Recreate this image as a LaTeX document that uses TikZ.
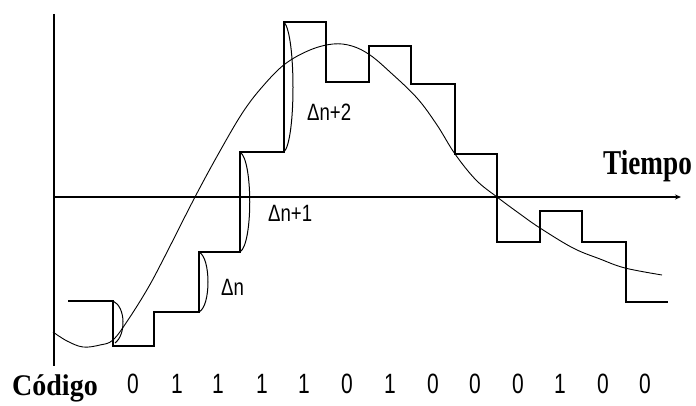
\documentclass[tikz,border=0pt]{standalone}
\usepackage{fontspec}
\usepackage{graphicx}
\setmainfont{Liberation Serif}
\newfontfamily\lsans{Liberation Sans}
\usetikzlibrary{arrows.meta}
\begin{document}
\begin{tikzpicture}[x=1pt,y=-1pt,
  axisline/.style={line width=1.3pt},
  stair/.style={line width=1.6pt, line join=miter},
  signal/.style={line width=0.9pt},
  bracket/.style={line width=1pt},
  bit/.style={inner sep=0pt, anchor=base, font=\lsans\fontsize{21}{24}\selectfont},
  dlabel/.style={inner sep=0pt, anchor=base west, font=\lsans\fontsize{18.6}{22}\selectfont},
  title/.style={inner sep=0pt, anchor=base west, font=\bfseries\fontsize{27.2}{30}\selectfont}
]
\useasboundingbox (0,0) rectangle (696,406);

% axes
\coordinate (vtop) at (54,14);
\coordinate (vbot) at (54,366);
\coordinate (hstart) at (54,197);
\coordinate (hend) at (681,197);
\draw[axisline] (vtop) -- (vbot);
\draw[axisline,-{Stealth[length=6pt,width=5pt]}] (hstart) -- (hend);

% staircase
\draw[stair] (68,301) -| (113,346) -| (154,312) -| (199,252) -| (240,152) -| (284,22)
  -| (326,82) -| (369,46) -| (411,84) -| (455,154) -| (497,242) -| (540,211)
  -| (582,242) -| (626,302) -- (668,302);

% analog signal
\draw[signal] plot[smooth, tension=0.6] coordinates {
  (53,332) (67,341) (83,347) (100,345) (113,340) (128,320) (148,288) (165,256)
  (195,197) (220,151) (243,112) (263,86) (285,64) (310,50) (333,44) (352,46)
  (370,55) (390,72) (417,98) (437,125) (455,154) (476,180) (497,197) (520,214)
  (540,228) (573,248) (600,259) (625,268) (662,275)};

% step brackets
\draw[bracket] (113,301) .. controls (126,307) and (126,335) .. (115,343);
\draw[bracket] (199,252) .. controls (211,258) and (211,306) .. (199,312);
\draw[bracket] (240,152) .. controls (253,160) and (253,244) .. (240,252);
\draw[bracket] (284,22) .. controls (296,35) and (296,140) .. (284,152);

% labels
\node[dlabel] (dn) at (221,295) {\scalebox{1}[1.27]{Δn}};
\node[dlabel] (dn1) at (268,222) {\scalebox{1}[1.27]{Δn+1}};
\node[dlabel] (dn2) at (307,121) {\scalebox{1}[1.27]{Δn+2}};

\node[title] (tiempo) at (603,175) {\scalebox{1}[1.28]{Tiempo}};
\node[title, font=\bfseries\fontsize{28}{30}\selectfont] (codigo) at (12,395) {\scalebox{1}[1.07]{Código}};

% code bits
\node[bit] (b1) at (133,393) {\scalebox{1}[1.33]{0}};
\node[bit] (b2) at (177,393) {\scalebox{1}[1.33]{1}};
\node[bit] (b3) at (218,393) {\scalebox{1}[1.33]{1}};
\node[bit] (b4) at (262,393) {\scalebox{1}[1.33]{1}};
\node[bit] (b5) at (304,393) {\scalebox{1}[1.33]{1}};
\node[bit] (b6) at (347,393) {\scalebox{1}[1.33]{0}};
\node[bit] (b7) at (390,393) {\scalebox{1}[1.33]{1}};
\node[bit] (b8) at (433,393) {\scalebox{1}[1.33]{0}};
\node[bit] (b9) at (475,393) {\scalebox{1}[1.33]{0}};
\node[bit] (b10) at (518,393) {\scalebox{1}[1.33]{0}};
\node[bit] (b11) at (560,393) {\scalebox{1}[1.33]{1}};
\node[bit] (b12) at (603,393) {\scalebox{1}[1.33]{0}};
\node[bit] (b13) at (645,393) {\scalebox{1}[1.33]{0}};
\end{tikzpicture}
\end{document}
